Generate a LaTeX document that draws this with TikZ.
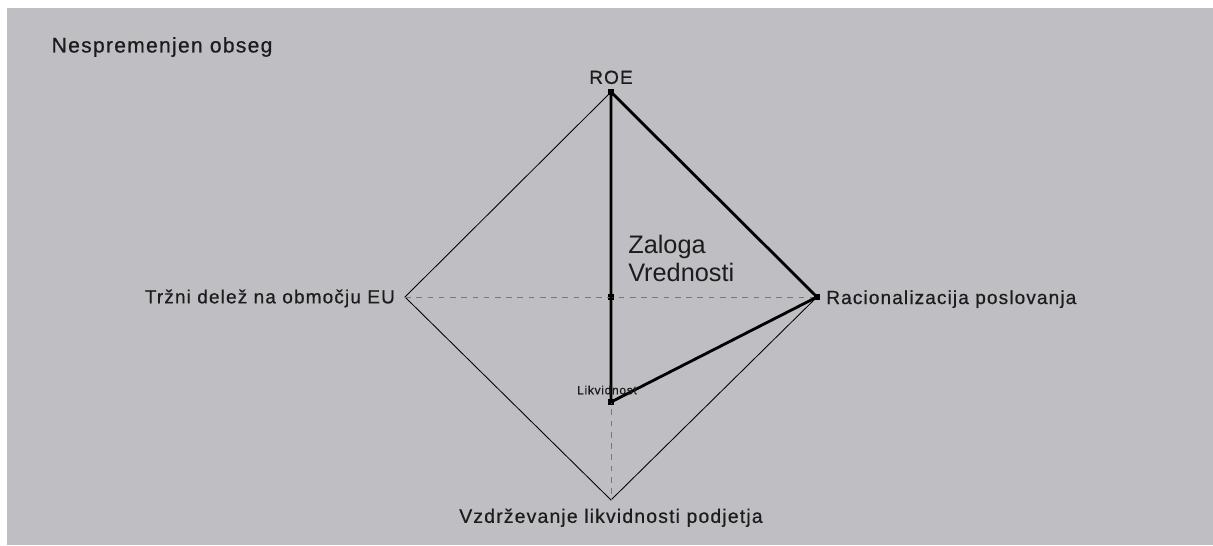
\documentclass[tikz,border=0pt]{standalone}
\usepackage{fontspec}
\setmainfont{Liberation Sans}
\newfontfamily\labfont[LetterSpace=6,FakeBold=0.6]{Liberation Sans}
\usetikzlibrary{positioning}
\definecolor{panelgray}{RGB}{191,191,195}
\definecolor{textgray}{RGB}{28,28,28}
\definecolor{guidegray}{RGB}{120,120,124}

\tikzset{
  vertexmark/.style={fill=black, inner sep=0pt, minimum size=4.5pt},
  axislabel/.style={font=\labfont\fontsize{13.5}{15}\selectfont, text=textgray, inner sep=1pt},
  guideline/.style={dash pattern=on 4pt off 4pt, guidegray, line width=0.5pt},
  valueline/.style={line width=2pt, line join=round},
}

\begin{document}
\begin{tikzpicture}[x=0.025cm, y=-0.025cm]
  \useasboundingbox (0,0) rectangle (1213,546);
  \fill[panelgray] (7,8) rectangle (1213,545);

  % axes ends
  \node[vertexmark] (roe) at (611,92) {};
  \node[vertexmark] (rac) at (817,297) {};
  \coordinate (vzd) at (611,500);
  \coordinate (trz) at (405,297);
  \node[vertexmark] (ctr) at (611,297) {};
  \node[vertexmark] (likv) at (611,402) {};

  % frame and guides
  \draw[line width=0.6pt] (roe.center) -- (rac.center) -- (vzd) -- (trz) -- cycle;
  \draw[guideline] (trz) -- (rac.center);
  \draw[guideline] (ctr.center) -- (vzd);

  % values
  \draw[valueline] (roe.center) -- (rac.center) -- (likv.center) -- cycle;

  % labels
  \node[axislabel, above=2pt of roe] (roelabel) {ROE};
  \node[axislabel, right=3pt of rac, yshift=-1.5pt] (raclabel) {Racionalizacija poslovanja};
  \node[axislabel, left=6pt of trz, yshift=-1pt] (trzlabel) {Tržni delež na območju EU};
  \node[axislabel, below=5pt of vzd, font=\labfont\fontsize{13.8}{15}\selectfont] (vzdlabel) {Vzdrževanje likvidnosti podjetja};
  \node[axislabel, anchor=west, font=\labfont\fontsize{15}{17}\selectfont] (title) at (50,47) {Nespremenjen obseg};
  \node[axislabel, font=\labfont\fontsize{8.5}{9}\selectfont] (likvlabel) at (607,390) {Likvidnost};
  \node[anchor=north west, align=left, inner sep=0pt, text=textgray,
        font=\fontsize{18}{20}\selectfont] (zaloga) at (628,235) {Zaloga\\Vrednosti};
\end{tikzpicture}
\end{document}
